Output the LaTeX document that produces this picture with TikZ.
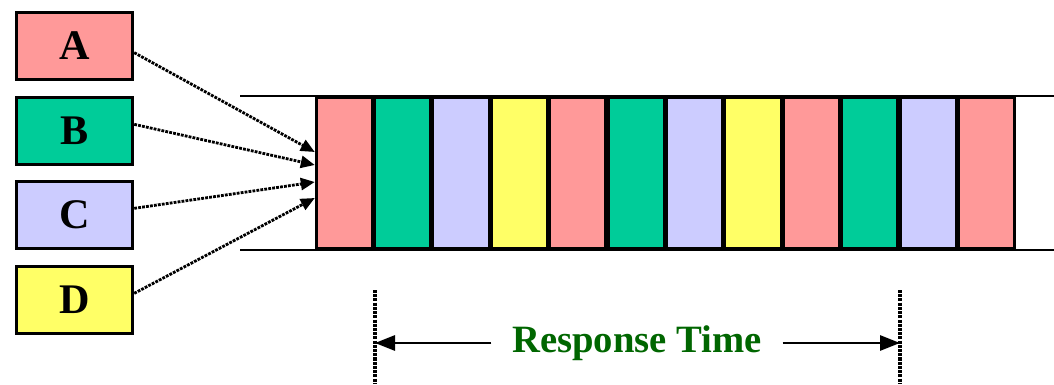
\documentclass[tikz,border=0pt]{standalone}
\usepackage{fontspec}
\setmainfont{Liberation Serif}
\usetikzlibrary{arrows.meta}
\definecolor{procA}{HTML}{FF9999}
\definecolor{procB}{HTML}{00CC99}
\definecolor{procC}{HTML}{CCCCFF}
\definecolor{procD}{HTML}{FFFF66}
\definecolor{resp}{HTML}{006600}
\tikzset{proc/.style={draw=black, line width=2.4pt, minimum width=3.5cm, minimum height=2.03cm,
		inner sep=0pt, font=\fontsize{36}{40}\selectfont\bfseries},
	slot/.style={draw=black, line width=2.4pt, minimum width=1.68cm, minimum height=4.55cm, inner sep=0pt},
	rail/.style={line width=2.4pt},
	feed/.style={densely dotted, line width=2.4pt, -{Triangle[length=0.42cm, width=0.36cm]}},
	marker/.style={densely dotted, line width=2.6pt}}

\begin{document}
\begin{tikzpicture}[x=0.03cm, y=-0.03cm]
		\useasboundingbox (0,0) rectangle (1054,384);
		
		% the four processes
		\node[proc, fill=procA] (A) at (74.5,46) {A};
		\node[proc, fill=procB] (B) at (74.5,131) {B};
		\node[proc, fill=procC] (C) at (74.5,215) {C};
		\node[proc, fill=procD] (D) at (74.5,300) {D};
		
		% the time line
		\draw[rail] (240,96) -- (1054,96);
		\draw[rail] (240,250) -- (1054,250);
		\foreach \c [count=\i] in {procA,procB,procC,procD,procA,procB,procC,procD,procA,procB,procC,procA}
		\node[slot, fill=\c] (s\i) at ({315+58.4*(\i-0.5)},173) {};
		
		\draw[feed] ([yshift=-0.2cm]A.east) -- ([yshift=0.63cm]s1.west);
		\draw[feed] ([yshift=0.2cm]B.east) -- ([yshift=0.24cm]s1.west);
		\draw[feed] ([yshift=0.2cm]C.east) -- ([yshift=-0.27cm]s1.west);
		\draw[feed] ([yshift=0.2cm]D.east) -- ([yshift=-0.75cm]s1.west);
		
		% response time
		\coordinate (t0) at (375,290);
		\coordinate (t1) at (900,290);
		\draw[marker] (t0) -- (375,384);
		\draw[marker] (t1) -- (900,384);
		\node[text=resp, inner xsep=0.62cm, font=\fontsize{33}{38}\selectfont\bfseries] (rt) at (637,343) {Response Time};
		\draw[rail, -{Triangle[length=0.6cm, width=0.45cm]}] (rt.west) -- (t0 |- rt.west);
		\draw[rail, -{Triangle[length=0.6cm, width=0.45cm]}] (rt.east) -- (t1 |- rt.east);
		
\end{tikzpicture}
\end{document}
